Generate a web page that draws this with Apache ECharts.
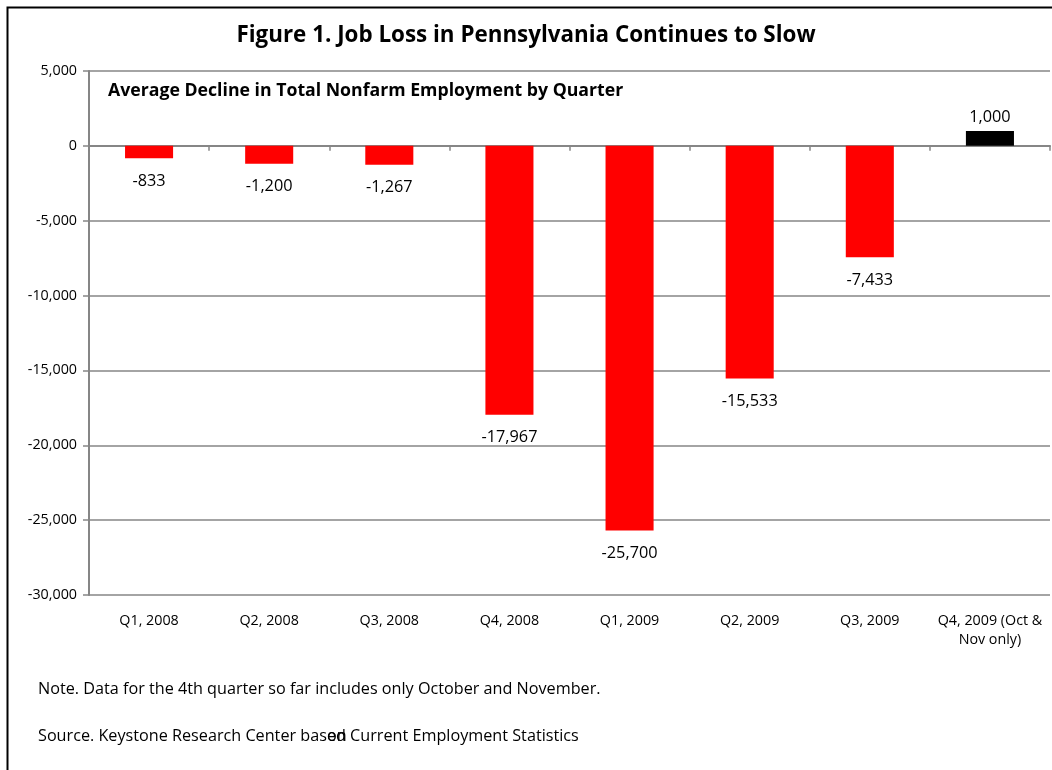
<!DOCTYPE html>
<html><head><meta charset="utf-8">
<script src="https://cdn.jsdelivr.net/npm/echarts@6/dist/echarts.min.js"></script>
<style>html,body{margin:0;padding:0;background:#fff}#c{width:1052px;height:770px}</style>
</head><body><div id="c"></div>
<script>
const categories = ['Q1, 2008','Q2, 2008','Q3, 2008','Q4, 2008','Q1, 2009','Q2, 2009','Q3, 2009','Q4, 2009 (Oct &\nNov only)'];
const values = [-833, -1200, -1267, -17967, -25700, -15533, -7433, 1000];
const barColors = ['#FF0000','#FF0000','#FF0000','#FF0000','#FF0000','#FF0000','#FF0000','#000000'];
const yTicks = {min: -30000, max: 5000, interval: 5000};
const titleText = 'Figure 1. Job Loss in Pennsylvania Continues to Slow';
const subtitleText = 'Average Decline in Total Nonfarm Employment by Quarter';
const noteText = 'Note. Data for the 4th quarter so far includes only October and November.';
const sourceText = 'Source. Keystone Research Center based Current Employment Statistics';

const FONT = '"Open Sans"';
const fmt = v => v.toLocaleString('en-US');
const chart = echarts.init(document.getElementById('c'));
chart.setOption({
  animation: false,
  backgroundColor: '#fff',
  title: {text: titleText, left: 'center', top: 20, textStyle: {fontFamily: FONT, fontSize: 22.4, fontWeight: 'bold', color: '#000'}},
  grid: {left: 89, right: 2, top: 71, bottom: 175, containLabel: false},
  xAxis: {
    type: 'category', data: categories,
    axisLine: {onZero: true, lineStyle: {color: '#868686', width: 2}},
    axisTick: {show: true, alignWithLabel: false, length: 5, inside: false, lineStyle: {color: '#868686', width: 1.5}},
    axisLabel: {show: false}
  },
  yAxis: {
    type: 'value', min: yTicks.min, max: yTicks.max, interval: yTicks.interval,
    axisLine: {show: true, lineStyle: {color: '#868686', width: 2}},
    axisTick: {show: true, length: 6, lineStyle: {color: '#868686', width: 1.5}},
    splitLine: {lineStyle: {color: '#868686', width: 1.5}},
    axisLabel: {fontFamily: FONT, fontSize: 14.3, color: '#000', margin: 12, formatter: v => fmt(v)}
  },
  series: [
    {
      type: 'bar', barWidth: '40%',
      data: values.map((v,i) => ({value: v, itemStyle: {color: barColors[i]},
        label: {position: v < 0 ? 'bottom' : 'top', distance: v < 0 ? 15 : 6}})),
      label: {show: true, fontFamily: FONT, fontSize: 16.3, color: '#000', formatter: p => fmt(p.value)}
    }
  ]
});
const ctx = document.createElement('canvas').getContext('2d');
ctx.font = '16.2px ' + FONT;
const edX = 38 + ctx.measureText('Source. Keystone Research Center bas').width;
const graphics = [
  {type: 'rect', left: 5, top: 5, shape: {width: 1100, height: 800}, style: {fill: 'none', stroke: '#000', lineWidth: 2}, silent: true, z: 100},
  {type: 'text', left: 108, top: 82, style: {text: subtitleText, font: 'bold 17.7px ' + FONT, fill: '#000'}},
  {type: 'text', left: 38, top: 681, style: {text: noteText, font: '16.2px ' + FONT, fill: '#000'}},
  {type: 'text', left: 38, top: 728, style: {text: sourceText, font: '16.2px ' + FONT, fill: '#000'}},
  {type: 'text', x: edX, y: 728, style: {text: 'on', font: '16.2px ' + FONT, fill: '#000'}}
];
categories.forEach((c, i) => {
  const pt = chart.convertToPixel({xAxisIndex: 0, yAxisIndex: 0}, [i, yTicks.min]);
  graphics.push({type: 'text', x: pt[0], y: pt[1] + 16, style: {text: c, font: '14.3px ' + FONT, fill: '#000', align: 'center', verticalAlign: 'top', lineHeight: 19}});
});
chart.setOption({graphic: graphics});
</script></body></html>
